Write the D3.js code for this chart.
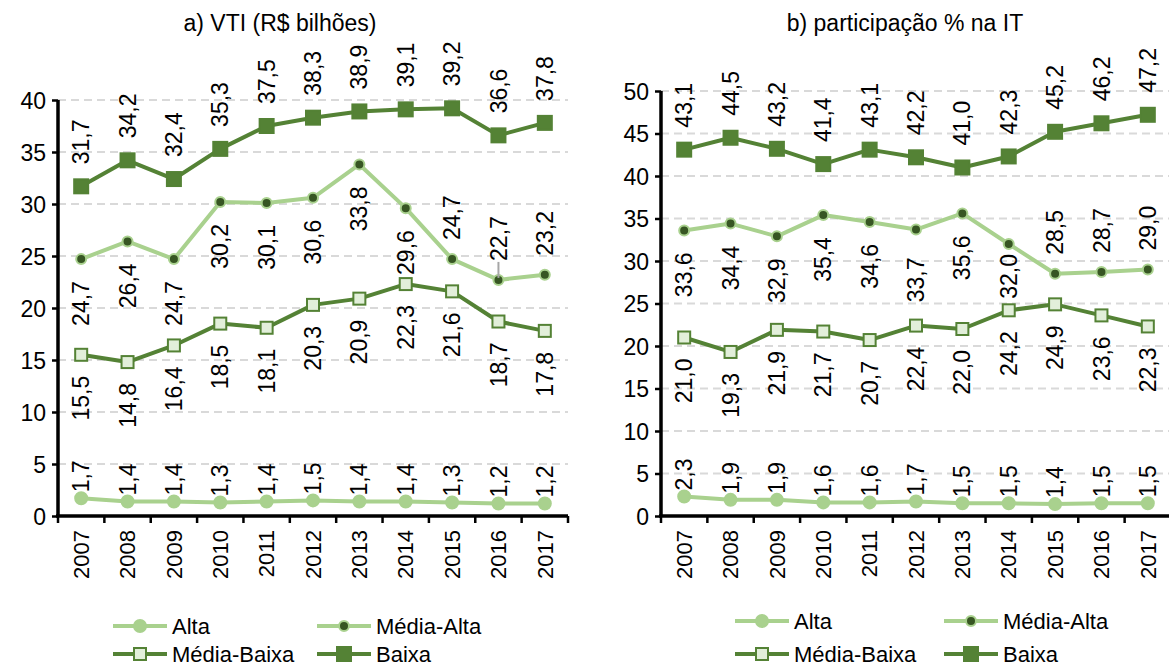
<html>
<head>
<meta charset="utf-8">
<script src="https://d3js.org/d3.v7.min.js"></script>
<style>
body { margin: 0; background: white; font-family: 'Liberation Sans', Arial, sans-serif; }
svg text { font-family: 'Liberation Sans', Arial, sans-serif; fill: black; }
</style>
</head>
<body>
<svg id="chart"></svg>
<script>

var years = ["2007","2008","2009","2010","2011","2012","2013","2014","2015","2016","2017"];
var seriesNames = ["Alta","Média-Alta","Média-Baixa","Baixa"];

// a) VTI (R$ bilhões)
var vtiAlta = [1.7,1.4,1.4,1.3,1.4,1.5,1.4,1.4,1.3,1.2,1.2];
var vtiMediaAlta = [24.7,26.4,24.7,30.2,30.1,30.6,33.8,29.6,24.7,22.7,23.2];
var vtiMediaBaixa = [15.5,14.8,16.4,18.5,18.1,20.3,20.9,22.3,21.6,18.7,17.8];
var vtiBaixa = [31.7,34.2,32.4,35.3,37.5,38.3,38.9,39.1,39.2,36.6,37.8];
var vtiTicks = [0,5,10,15,20,25,30,35,40];

// b) participação % na IT
var partAlta = [2.3,1.9,1.9,1.6,1.6,1.7,1.5,1.5,1.4,1.5,1.5];
var partMediaAlta = [33.6,34.4,32.9,35.4,34.6,33.7,35.6,32.0,28.5,28.7,29.0];
var partMediaBaixa = [21.0,19.3,21.9,21.7,20.7,22.4,22.0,24.2,24.9,23.6,22.3];
var partBaixa = [43.1,44.5,43.2,41.4,43.1,42.2,41.0,42.3,45.2,46.2,47.2];
var partTicks = [0,5,10,15,20,25,30,35,40,45,50];

var lightGreen = "#a9d18e", darkGreen = "#548235", deepGreen = "#375623", paleFill = "#e2efda";

var svg = d3.select("#chart").attr("width", 1169).attr("height", 668);

// styles per series: line colour, marker, label side, label gap
var styles = [
	{line: lightGreen, marker: "circle", fill: lightGreen, stroke: lightGreen, r: 6, side: "above", gap: 6},
	{line: lightGreen, marker: "circle", fill: deepGreen, stroke: lightGreen, r: 5, side: "below", gap: 22},
	{line: darkGreen, marker: "square", fill: paleFill, stroke: darkGreen, r: 6, side: "below", gap: 21},
	{line: darkGreen, marker: "square", fill: darkGreen, stroke: darkGreen, r: 7, side: "above", gap: 22}
];

function fmt(v) { return d3.format(".1f")(v).replace(".", ","); }

function drawMarker(g, st, x, y) {
	if (st.marker == "circle") {
		g.append("circle").attr("cx", x).attr("cy", y).attr("r", st.r)
		.style("fill", st.fill).style("stroke", st.stroke).style("stroke-width", 2);
	} else {
		g.append("rect").attr("x", x - st.r).attr("y", y - st.r)
		.attr("width", st.r*2).attr("height", st.r*2)
		.style("fill", st.fill).style("stroke", st.stroke).style("stroke-width", 2);
	}
}

function drawPanel(cfg) {
	var g = svg.append("g");
	var x = d3.scaleBand().domain(years).range([cfg.left, cfg.right]);
	var y = d3.scaleLinear().domain([0, cfg.max]).range([516, cfg.top]);

	// gridlines
	g.selectAll("line.grid").data(cfg.ticks.slice(1)).enter().append("line")
	.attr("x1", cfg.left).attr("x2", cfg.right)
	.attr("y1", function(d){ return y(d); }).attr("y2", function(d){ return y(d); })
	.style("stroke", "#d9d9d9").style("stroke-width", 2).style("stroke-dasharray", "8,5");

	// y axis
	var yAxis = g.append("g").attr("transform", "translate(" + cfg.left + ",0)")
	.call(d3.axisLeft(y).tickValues(cfg.ticks).tickSize(6).tickPadding(6).tickFormat(d3.format("d")));
	yAxis.select(".domain").remove();
	yAxis.selectAll("line").style("stroke", "black").style("stroke-width", 2.5);
	yAxis.selectAll("text").style("font-size", "23px").attr("dy", "0.36em");
	g.append("line").attr("x1", cfg.left).attr("x2", cfg.left).attr("y1", y(cfg.max)).attr("y2", 517)
	.style("stroke", "black").style("stroke-width", 3.5);

	// x axis with ticks between categories
	var edges = years.map(function(d){ return x(d); }).concat([cfg.right]);
	g.selectAll("line.xt").data(edges).enter().append("line")
	.attr("x1", function(d){ return d; }).attr("x2", function(d){ return d; })
	.attr("y1", 516).attr("y2", 523)
	.style("stroke", "black").style("stroke-width", 2.5);
	g.append("line").attr("x1", cfg.left - 2).attr("x2", cfg.right).attr("y1", 516).attr("y2", 516)
	.style("stroke", "black").style("stroke-width", 3.5);
	g.selectAll("text.xl").data(years).enter().append("text")
	.attr("transform", function(d){ return "translate(" + (x(d) + x.bandwidth()/2) + ",530) rotate(-90)"; })
	.attr("text-anchor", "end").attr("dy", "0.35em").style("font-size", "22px")
	.text(function(d){ return d; });

	// series lines, markers, labels
	cfg.series.forEach(function(vals, si) {
		var st = styles[si];
		var line = d3.line().x(function(d, i){ return x(years[i]) + x.bandwidth()/2; }).y(function(d){ return y(d); });
		g.append("path").datum(vals).attr("d", line)
		.style("fill", "none").style("stroke", st.line).style("stroke-width", 4).style("stroke-linejoin", "round");
		vals.forEach(function(v, i) {
			var px = x(years[i]) + x.bandwidth()/2, py = y(v);
			drawMarker(g, st, px, py);
			var side = st.side, gap = st.gap;
			if (si == 1 && i >= 8) { side = "above"; gap = 19; }
			if (cfg.gapFix && cfg.gapFix[si + "_" + i] != null) gap = cfg.gapFix[si + "_" + i];
			if (side == "above") {
				g.append("text").attr("transform", "translate(" + px + "," + (py - gap) + ") rotate(-90)")
				.attr("text-anchor", "start").attr("dy", "0.35em").style("font-size", "23px").text(fmt(v));
			} else {
				g.append("text").attr("transform", "translate(" + px + "," + (py + gap) + ") rotate(-90)")
				.attr("text-anchor", "end").attr("dy", "0.35em").style("font-size", "23px").text(fmt(v));
			}
		});
	});

	// leader line
	if (cfg.leader != null) {
		var lx = x(years[cfg.leader]) + x.bandwidth()/2, ly = y(cfg.series[1][cfg.leader]);
		g.append("line").attr("x1", lx).attr("x2", lx).attr("y1", ly - 2).attr("y2", ly - 18)
		.style("stroke", "#a6a6a6").style("stroke-width", 2);
	}

	// title
	g.append("text").attr("x", cfg.titleX).attr("y", 31).attr("text-anchor", "middle")
	.style("font-size", "23px").text(cfg.title);

	// legend
	seriesNames.forEach(function(name, si) {
		var st = styles[si];
		var lx = cfg.legX[si % 2], ly = cfg.legY[Math.floor(si / 2)];
		g.append("line").attr("x1", lx).attr("x2", lx + 54).attr("y1", ly).attr("y2", ly)
		.style("stroke", st.line).style("stroke-width", 4);
		drawMarker(g, st, lx + 27, ly);
		g.append("text").attr("x", lx + 59).attr("y", ly).attr("dy", "0.36em")
		.style("font-size", "22px").text(name);
	});
}

drawPanel({
	left: 58, right: 568, top: 100, max: 40, ticks: vtiTicks,
	series: [vtiAlta, vtiMediaAlta, vtiMediaBaixa, vtiBaixa],
	leader: 9, title: "a) VTI (R$ bilhões)", titleX: 280,
	legX: [113, 317], legY: [626, 654]
});

drawPanel({
	left: 661, right: 1171, top: 91, max: 50, ticks: partTicks,
	series: [partAlta, partMediaAlta, partMediaBaixa, partBaixa],
	leader: null, title: "b) participação % na IT", titleX: 905,
	legX: [735, 944], legY: [621, 654],
	gapFix: {"1_7": 10, "1_5": 28}
});

</script>
</body>
</html>
